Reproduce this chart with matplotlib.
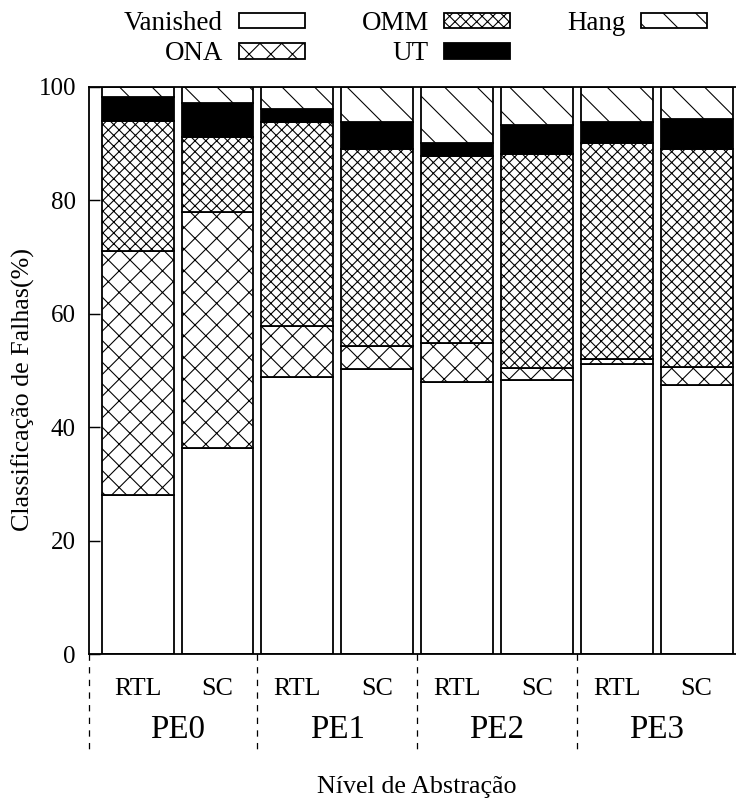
import warnings
import numpy as np
import matplotlib
matplotlib.use("Agg")
import matplotlib.pyplot as plt
import matplotlib.hatch as mhatch
from matplotlib import transforms

warnings.filterwarnings("ignore", category=matplotlib.MatplotlibDeprecationWarning)

# dados (%)
groups = ["PE0", "PE1", "PE2", "PE3"]
levels = ["RTL", "SC", "RTL", "SC", "RTL", "SC", "RTL", "SC"]
vanished = [28.1, 36.4, 48.9, 50.3, 47.9, 48.3, 51.1, 47.5]
ona = [43.0, 41.5, 9.0, 4.0, 7.0, 2.2, 0.9, 3.1]
omm = [22.9, 13.2, 35.9, 34.7, 32.9, 37.6, 38.0, 38.5]
ut = [4.2, 6.1, 2.2, 4.7, 2.2, 5.2, 3.7, 5.2]
hang = [1.8, 2.8, 4.0, 6.3, 10.0, 6.7, 6.3, 5.7]


# hachura "\" mais espaçada para Hang
class SparseBackslash(mhatch.SouthEastHatch):
    def __init__(self, hatch, density):
        self.num_lines = 8 * hatch.count("z")
        self.num_vertices = (self.num_lines + 1) * 2 if self.num_lines else 0


mhatch._hatch_types.append(SparseBackslash)

DPI = 130
plt.rcParams["font.family"] = ["Liberation Serif", "DejaVu Serif"]
plt.rcParams["hatch.linewidth"] = 0.6
plt.rcParams["hatch.color"] = "black"

fs = 26 * 72 / DPI      # ~26 px
fs_pe = 33 * 72 / DPI

fig = plt.figure(figsize=(736 / DPI, 800 / DPI), dpi=DPI)
ax = fig.add_axes([89.3 / 736, 145.7 / 800, 655.7 / 736, 567.6 / 800])

x = np.arange(len(levels))
series = [
    ("Vanished", vanished, "white", None),
    ("ONA", ona, "white", "xx"),
    ("OMM", omm, "white", "xxxx"),
    ("UT", ut, "black", None),
    ("Hang", hang, "white", "z"),
]
bottom = np.zeros(len(levels))
handles = []
for name, vals, color, hatch in series:
    b = ax.bar(x, vals, 0.9, bottom=bottom, color=color, edgecolor="black",
               linewidth=1.0, hatch=hatch, label=name)
    handles.append(b)
    bottom += np.array(vals)

ax.set_xlim(-0.606, 7.606)
ax.set_ylim(0, 100)
ax.set_yticks([0, 20, 40, 60, 80, 100])
ax.tick_params(axis="y", direction="in", length=6, width=0.8, labelsize=fs * 0.96,
               pad=7.4)
ax.set_xticks(x)
ax.set_xticklabels(levels)
ax.tick_params(axis="x", length=0, labelsize=fs, pad=13.4)
for s in ax.spines.values():
    s.set_linewidth(1.0)

# rótulos dos grupos e separadores tracejados
trans = transforms.blended_transform_factory(ax.transData, ax.transAxes)
for i, g in enumerate(groups):
    ax.text(2 * i + 0.5, -0.1334, g, transform=trans, ha="center", va="center",
            fontsize=fs_pe)
for xs in [-0.606, 1.5, 3.5, 5.5]:
    ax.plot([xs, xs], [0, -0.1774], transform=trans, color="black", lw=0.7,
            ls=(0, (5, 5)), clip_on=False)

ax.set_xlabel("Nível de Abstração", fontsize=fs, va="center")
ax.xaxis.set_label_coords(0.5, -0.234)
ax.set_ylabel("Classificação de Falhas(%)", fontsize=fs, va="center")
ax.yaxis.set_label_coords(-0.1, 0.4657)

fig.legend(handles=handles, loc="upper left", ncol=3, markerfirst=False,
           bbox_to_anchor=(124 / 736, 1 - 11.0 / 800), frameon=False,
           fontsize=fs * 1.04, borderpad=0, borderaxespad=0,
           handlelength=2.44, handleheight=0.52, handletextpad=0.58,
           columnspacing=2.1, labelspacing=0.2)

fig.savefig("out.png", dpi=DPI)
